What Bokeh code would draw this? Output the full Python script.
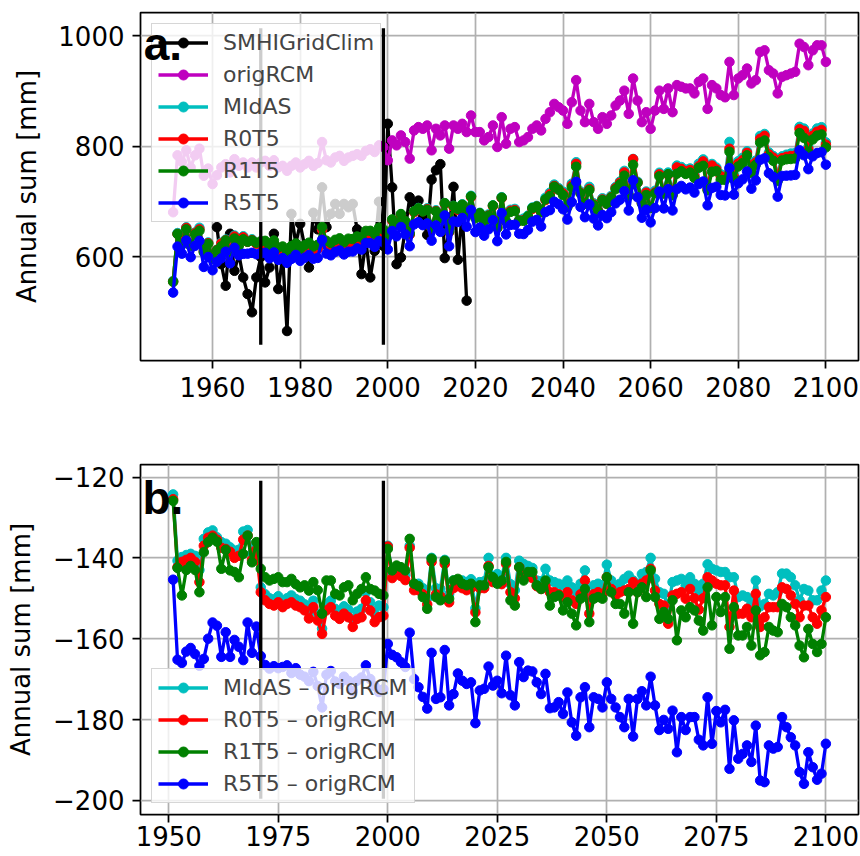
from bokeh.plotting import figure
from bokeh.models import Legend, LegendItem, Label, FixedTicker, Range1d
from bokeh.layouts import column
from bokeh.embed import file_html
from bokeh.resources import INLINE

try:
    from bokeh.models import HTMLLabel as TopLabel
except Exception:
    TopLabel = Label

# ---------------- data ----------------
years = list(range(1951, 2101))
obs_years = list(range(1961, 2019))

orig_rcm = [
    681, 784, 772, 793, 762, 784, 796, 747, 760, 732,
    748, 762, 768, 753, 777, 765, 771, 762, 771, 762,
    771, 774, 765, 775, 762, 765, 756, 765, 771, 762,
    768, 774, 765, 770, 808, 775, 771, 780, 783, 774,
    780, 783, 786, 783, 792, 795, 790, 802, 799, 775,
    811, 802, 820, 808, 778, 829, 835, 832, 838, 793,
    832, 820, 838, 796, 838, 832, 841, 826, 856, 826,
    826, 811, 817, 838, 799, 853, 805, 832, 835, 808,
    811, 817, 832, 838, 829, 850, 862, 877, 871, 865,
    841, 880, 920, 865, 844, 877, 844, 832, 853, 841,
    856, 874, 883, 901, 859, 923, 883, 844, 862, 832,
    865, 901, 868, 905, 862, 911, 908, 905, 905, 896,
    917, 923, 868, 911, 905, 893, 889, 953, 893, 923,
    929, 941, 914, 920, 971, 974, 938, 932, 896, 926,
    929, 932, 935, 986, 980, 947, 974, 983, 983, 953,
]

smhi_gridclim = [
    654, 587, 548, 642, 575, 605, 563, 533, 500, 563,
    600, 554, 581, 642, 542, 600, 466, 678, 624, 660,
    620, 581, 680, 650, 726, 654, 678, 696, 678, 696,
    690, 696, 650, 569, 630, 563, 611, 700, 620, 841,
    726, 587, 599, 650, 708, 696, 702, 672, 640, 740,
    757, 768, 598, 650, 727, 595, 680, 521,
]

# differences to origRCM (panel b)
diff_midas = [
    -124.3, -140.7, -139.8, -139.3, -139.0, -139.5, -143.0, -135.3, -133.7, -133.2,
    -134.9, -136.1, -136.5, -137.4, -138.2, -138.0, -133.5, -133.1, -139.0, -137.0,
    -147.3, -149.0, -150.0, -150.3, -149.5, -150.6, -150.0, -149.3, -150.2, -150.6,
    -151.5, -153.3, -150.6, -153.8, -157.5, -151.4, -150.6, -152.6, -153.3, -152.0,
    -152.8, -155.3, -153.3, -152.6, -148.5, -151.0, -153.8, -151.8, -152.2, -137.0,
    -144.0, -142.5, -143.0, -144.3, -137.0, -146.5, -146.4, -147.5, -150.0, -140.0,
    -147.5, -147.7, -140.5, -149.0, -145.6, -145.5, -145.6, -146.0, -145.3, -152.5,
    -146.0, -145.8, -140.0, -144.6, -144.0, -144.8, -140.0, -146.5, -148.0, -140.7,
    -141.5, -142.0, -142.5, -145.6, -145.8, -142.7, -145.6, -146.0, -146.4, -146.8,
    -145.6, -147.3, -148.5, -146.4, -143.1, -150.1, -146.8, -146.4, -146.8, -141.7,
    -145.6, -147.3, -146.4, -145.2, -144.4, -145.6, -146.8, -144.0, -143.5, -140.0,
    -145.2, -148.5, -148.9, -152.2, -146.0, -145.6, -145.2, -146.8, -144.8, -146.4,
    -148.1, -146.4, -141.6, -142.7, -143.1, -143.5, -143.5, -144.8, -144.8, -149.7,
    -149.3, -149.7, -151.4, -145.6, -152.0, -151.4, -148.9, -149.3, -148.5, -143.9,
    -143.9, -144.8, -146.8, -150.5, -147.7, -148.1, -150.5, -150.5, -148.1, -145.6,
]

diff_r0t5 = [
    -125.5, -142.3, -141.0, -140.5, -140.0, -141.0, -146.0, -137.0, -135.0, -134.5,
    -135.5, -137.5, -137.8, -138.5, -140.0, -139.5, -135.5, -134.5, -140.5, -138.0,
    -148.5, -150.5, -151.4, -151.8, -151.0, -152.2, -151.4, -151.0, -151.8, -152.2,
    -153.0, -155.0, -152.2, -155.5, -158.8, -153.0, -152.2, -154.3, -155.1, -153.8,
    -154.7, -157.1, -155.1, -154.7, -150.5, -153.0, -155.9, -154.7, -154.3, -137.2,
    -145.0, -144.0, -144.5, -145.5, -137.5, -148.0, -148.0, -149.0, -151.5, -141.0,
    -149.0, -149.5, -141.5, -151.0, -147.5, -147.0, -147.5, -148.0, -147.5, -153.5,
    -147.5, -147.5, -142.0, -146.0, -146.0, -146.5, -141.5, -148.5, -150.0, -142.3,
    -144.3, -144.3, -145.0, -147.0, -147.7, -147.0, -148.5, -148.5, -149.0, -149.7,
    -148.5, -150.5, -151.4, -149.0, -145.6, -153.8, -149.0, -148.5, -149.0, -144.8,
    -147.7, -149.3, -148.5, -148.1, -147.7, -146.0, -148.5, -146.4, -145.6, -142.7,
    -148.1, -151.4, -151.8, -156.3, -149.3, -148.9, -148.5, -150.1, -147.7, -150.0,
    -152.8, -150.0, -144.8, -145.6, -146.4, -146.8, -146.8, -157.1, -148.1, -153.8,
    -153.8, -152.6, -154.7, -148.9, -157.1, -154.7, -152.2, -152.2, -152.2, -147.3,
    -147.7, -149.3, -151.4, -154.7, -151.8, -151.8, -154.7, -156.3, -153.0, -149.7,
]

diff_r1t5 = [
    -125.9, -142.5, -149.3, -143.0, -142.0, -143.0, -148.5, -138.6, -136.1, -135.0,
    -136.0, -142.7, -138.0, -143.1, -143.5, -144.8, -139.0, -134.5, -141.1, -136.1,
    -142.7, -144.8, -145.6, -145.2, -144.8, -146.0, -146.0, -145.2, -146.5, -147.3,
    -146.8, -148.1, -146.0, -148.0, -153.8, -145.6, -145.6, -148.9, -149.3, -147.3,
    -146.8, -150.5, -148.9, -147.7, -144.8, -147.7, -148.1, -148.9, -149.3, -137.8,
    -143.1, -141.9, -142.3, -143.1, -135.3, -146.4, -147.0, -149.7, -152.6, -140.2,
    -149.7, -150.5, -140.7, -150.1, -145.6, -145.2, -146.4, -146.8, -146.4, -155.9,
    -146.8, -146.8, -142.3, -144.8, -146.4, -145.6, -141.0, -150.5, -151.8, -142.3,
    -145.6, -143.5, -143.5, -146.8, -147.7, -145.6, -151.8, -149.7, -149.3, -153.0,
    -151.0, -153.8, -156.7, -150.1, -147.7, -155.9, -150.1, -149.7, -150.1, -144.8,
    -148.5, -151.4, -151.4, -153.8, -148.5, -156.3, -148.5, -147.3, -149.7, -143.1,
    -149.7, -155.1, -153.4, -155.1, -150.5, -160.4, -153.0, -154.7, -152.2, -153.0,
    -155.5, -158.0, -147.3, -156.7, -149.7, -153.4, -149.7, -162.5, -152.2, -159.2,
    -159.2, -157.1, -161.7, -153.0, -164.1, -163.3, -157.1, -158.0, -158.4, -151.4,
    -152.2, -154.7, -156.7, -161.7, -164.6, -157.6, -161.3, -163.3, -161.3, -154.7,
]

diff_r5t5 = [
    -145.4, -165.2, -166.0, -163.2, -162.3, -163.8, -166.7, -165.0, -160.0, -156.0,
    -156.8, -164.5, -158.4, -164.5, -160.3, -162.0, -165.3, -156.0, -163.5, -157.0,
    -164.3, -166.5, -167.4, -166.8, -167.3, -167.0, -166.6, -168.5, -167.3, -168.9,
    -169.4, -170.5, -168.2, -171.7, -177.0, -168.9, -168.0, -170.6, -171.2, -169.4,
    -170.4, -173.0, -170.4, -169.6, -166.6, -170.0, -171.7, -173.2, -172.5, -161.3,
    -164.0, -164.6, -165.8, -167.0, -158.5, -170.0, -172.0, -174.4, -177.3, -163.5,
    -174.9, -174.5, -162.8, -176.5, -173.7, -168.6, -170.4, -171.2, -170.8, -180.9,
    -172.8, -172.4, -166.9, -171.6, -170.4, -173.5, -164.2, -174.0, -176.5, -165.8,
    -169.5, -167.9, -168.1, -170.8, -173.7, -168.7, -177.2, -177.0, -175.7, -178.6,
    -173.3, -180.7, -184.0, -174.5, -172.0, -181.9, -174.5, -174.9, -177.0, -170.8,
    -174.9, -177.0, -179.4, -181.9, -174.9, -184.2, -174.9, -173.0, -176.5, -169.4,
    -176.5, -182.6, -180.1, -182.3, -177.8, -188.1, -179.4, -182.6, -179.4, -179.4,
    -185.0, -186.4, -174.5, -186.0, -177.9, -180.7, -177.6, -192.2, -180.2, -189.7,
    -188.5, -186.4, -190.5, -181.5, -195.1, -195.5, -186.4, -187.2, -186.8, -179.4,
    -181.9, -184.4, -186.4, -193.0, -195.9, -188.1, -191.8, -194.9, -193.4, -186.0,
]

# panel a series = origRCM + difference
midas = [o + d for o, d in zip(orig_rcm, diff_midas)]
r0t5 = [o + d for o, d in zip(orig_rcm, diff_r0t5)]
r1t5 = [o + d for o, d in zip(orig_rcm, diff_r1t5)]
r5t5 = [o + d for o, d in zip(orig_rcm, diff_r5t5)]

period_years = [1971, 1999]          # vertical marker lines
period_span_a = [441.0, 1014.0]
period_span_b = [-120.9, -199.6]

x_ticks_a = [1960, 1980, 2000, 2020, 2040, 2060, 2080, 2100]
y_ticks_a = [600, 800, 1000]
x_ticks_b = [1950, 1975, 2000, 2025, 2050, 2075, 2100]
y_ticks_b = [-200, -180, -160, -140, -120]

FONT = "DejaVu Sans"
LW = 3.3
MS = 9.5
C_OBS, C_ORIG, C_MIDAS, C_R0, C_R1, C_R5 = "#000000", "#bf00bf", "#00bfbf", "#ff0000", "#008000", "#0000ff"


def style(p, xt, yt, ylab_standoff, xlab_standoff):
    p.xaxis.ticker = FixedTicker(ticks=xt)
    p.yaxis.ticker = FixedTicker(ticks=yt)
    p.xgrid.ticker = FixedTicker(ticks=xt)
    p.ygrid.ticker = FixedTicker(ticks=yt)
    for g in (p.xgrid, p.ygrid):
        g.grid_line_color = "#b0b0b0"
        g.grid_line_width = 1.75
    p.outline_line_color = "black"
    p.outline_line_width = 1.75
    p.outline_line_alpha = 1.0
    for ax in (p.xaxis, p.yaxis):
        ax.axis_line_color = None
        ax.major_tick_line_color = "black"
        ax.major_tick_line_width = 1.75
        ax.major_tick_out = 8
        ax.major_tick_in = 0
        ax.minor_tick_line_color = None
        ax.major_label_text_font = FONT
        ax.major_label_text_font_size = "26px"
        ax.major_label_text_color = "black"
    p.xaxis.major_label_standoff = xlab_standoff
    p.yaxis.major_label_standoff = 8
    p.yaxis.axis_label = "Annual sum [mm]"
    p.yaxis.axis_label_text_font = FONT
    p.yaxis.axis_label_text_font_size = "26px"
    p.yaxis.axis_label_text_font_style = "normal"
    p.yaxis.axis_label_text_color = "black"
    p.yaxis.axis_label_standoff = ylab_standoff
    p.background_fill_color = "white"
    p.border_fill_color = "white"


def series(p, x, y, color):
    r1 = p.line(x, y, line_color=color, line_width=LW)
    r2 = p.scatter(x, y, marker="circle", size=MS, fill_color=color, line_color=color, line_width=1)
    return [r1, r2]


def make_legend(items, loc):
    return Legend(items=items, location=loc, margin=11, padding=6, spacing=7,
                  glyph_width=50, glyph_height=25, label_height=25, label_standoff=15,
                  label_text_font=FONT, label_text_font_size="22px",
                  background_fill_color="white", background_fill_alpha=0.8,
                  border_line_color="#cccccc", border_line_width=1.75, border_line_alpha=0.8)


def panel_label(text, x, y):
    return TopLabel(x=x, y=y, text=text, text_font=FONT, text_font_size="46px",
                    text_font_style="bold", text_color="black", text_baseline="alphabetic")


# ---------------- panel a ----------------
p1 = figure(width=860, height=420, output_backend="svg", toolbar_location=None,
            x_range=Range1d(1943.55, 2107.45), y_range=Range1d(412.7, 1042.4),
            min_border_left=134, min_border_right=2, min_border_top=12, min_border_bottom=60)
style(p1, x_ticks_a, y_ticks_a, 13, 8)

ra = []
ra.append(("SMHIGridClim", series(p1, obs_years, smhi_gridclim, C_OBS)))
ra.append(("origRCM", series(p1, years, orig_rcm, C_ORIG)))
ra.append(("MIdAS", series(p1, years, midas, C_MIDAS)))
ra.append(("R0T5", series(p1, years, r0t5, C_R0)))
ra.append(("R1T5", series(p1, years, r1t5, C_R1)))
ra.append(("R5T5", series(p1, years, r5t5, C_R5)))
p1.segment(x0=period_years, x1=period_years,
           y0=[period_span_a[0]] * 2, y1=[period_span_a[1]] * 2,
           line_color="black", line_width=LW)
leg1 = make_legend([LegendItem(label=n, renderers=r) for n, r in ra], "top_left")
p1.add_layout(leg1)
p1.add_layout(panel_label("a.", 1944.4, 984.0))

# ---------------- panel b ----------------
p2 = figure(width=860, height=436, output_backend="svg", toolbar_location=None,
            x_range=Range1d(1943.55, 2107.45), y_range=Range1d(-203.5, -116.9),
            min_border_left=140, min_border_right=2, min_border_top=44, min_border_bottom=42)
style(p2, x_ticks_b, y_ticks_b, 14, 3)
p2.yaxis.major_label_overrides = {t: ("\u2212" + str(abs(t))) for t in y_ticks_b}

rb = []
rb.append(("MIdAS \u2013 origRCM", series(p2, years, diff_midas, C_MIDAS)))
rb.append(("R0T5 \u2013 origRCM", series(p2, years, diff_r0t5, C_R0)))
rb.append(("R1T5 \u2013 origRCM", series(p2, years, diff_r1t5, C_R1)))
rb.append(("R5T5 \u2013 origRCM", series(p2, years, diff_r5t5, C_R5)))
p2.segment(x0=period_years, x1=period_years,
           y0=[period_span_b[0]] * 2, y1=[period_span_b[1]] * 2,
           line_color="black", line_width=LW)
leg2 = make_legend([LegendItem(label=n, renderers=r) for n, r in rb], "bottom_left")
p2.add_layout(leg2)
p2.add_layout(panel_label("b.", 1944.1, -125.2))

layout = column(p1, p2, spacing=0)
open("out.html", "w").write(file_html(layout, INLINE))
